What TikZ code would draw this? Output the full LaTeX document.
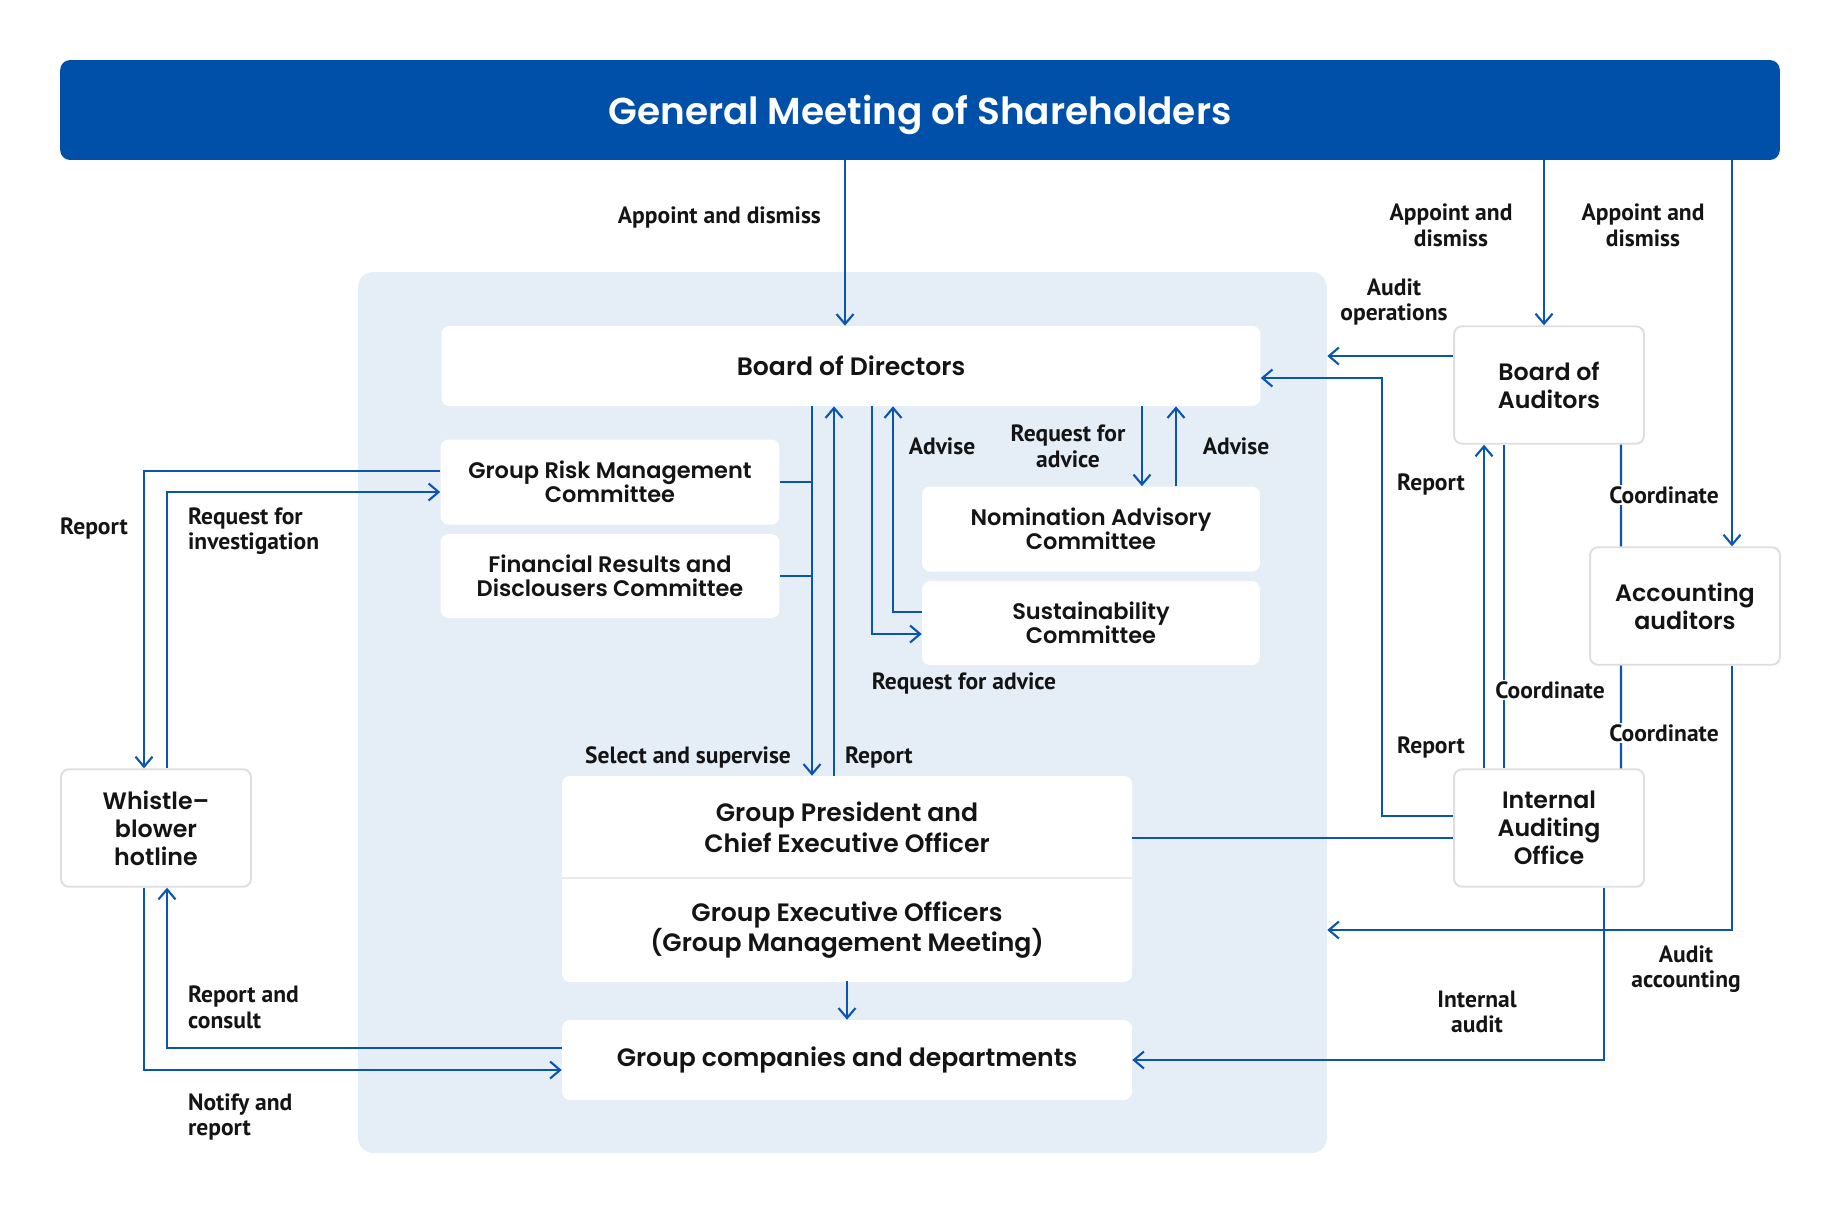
\documentclass[tikz,border=0pt]{standalone}
\usepackage{fontspec}
\setmainfont{PT Sans}
\newfontfamily\boxfont{Poppins}[UprightFont={* SemiBold}]
\newfontfamily\lblfont{PT Sans}
\usetikzlibrary{arrows.meta, positioning, calc}
\definecolor{gmsblue}{RGB}{0,80,170}
\definecolor{lineblue}{RGB}{10,85,175}
\definecolor{panelbg}{RGB}{229,237,247}
\definecolor{boxgray}{RGB}{222,222,222}
\definecolor{txt}{RGB}{20,20,20}

\begin{document}
\begin{tikzpicture}[
    x=0.02cm, y=-0.02cm,
    inbox/.style={rectangle, rounded corners=0.16cm, fill=white, align=center,
        inner sep=0pt, text=txt, font=\boxfont\fontsize{12.8}{13.8}\selectfont},
    bigbox/.style={inbox, font=\boxfont\fontsize{14.3}{17.5}\selectfont},
    outbox/.style={rectangle, rounded corners=0.16cm, fill=white, draw=boxgray,
        line width=1.1pt, align=center, inner sep=0pt, text=txt,
        minimum width=3.8cm, minimum height=2.35cm,
        font=\boxfont\fontsize{13.5}{16}\selectfont},
    lbl/.style={font=\lblfont\bfseries\fontsize{13.4}{14.6}\selectfont, align=center,
        text=txt, inner sep=1pt},
    arr/.style={draw=lineblue, line width=1.2pt, -{Straight Barb[length=0.2cm, width=0.34cm]}},
    con/.style={draw=lineblue, line width=1.2pt},
]
\useasboundingbox (0,0) rectangle (1841,1215);

% shareholders and the board area
\node[rectangle, rounded corners=0.2cm, fill=gmsblue, minimum width=34.4cm, minimum height=2cm,
    text=white, font=\boxfont\fontsize{21.3}{24}\selectfont] (gms) at (920,110) {\raisebox{-0.1cm}[\height][\depth]{General Meeting of Shareholders}};
\node[rectangle, rounded corners=0.3cm, fill=panelbg, minimum width=19.38cm, minimum height=17.62cm] (panel) at (842.5,712.5) {};

\node[bigbox, minimum width=16.38cm, minimum height=1.6cm] (bod) at (851,366) {Board of Directors};
\node[inbox, minimum width=6.78cm, minimum height=1.7cm] (grm) at (610,482) {Group Risk Management\\Committee};
\node[inbox, minimum width=6.78cm, minimum height=1.68cm] (fr) at (610,576) {Financial Results and\\Disclousers Committee};
\node[inbox, minimum width=6.76cm, minimum height=1.7cm] (nac) at (1091,529) {Nomination Advisory\\Committee};
\node[inbox, minimum width=6.76cm, minimum height=1.68cm] (sc) at (1091,623) {Sustainability\\Committee};

% president and executive officers share one card
\fill[white, rounded corners=0.16cm] (562,776) rectangle (1132,982);
\node[bigbox, fill=none, minimum width=11.4cm, minimum height=2.04cm] (gp) at (847,827) {Group President and\\Chief Executive Officer};
\node[bigbox, fill=none, minimum width=11.4cm, minimum height=2.04cm] (geo) at (847,930) {Group Executive Officers\\(Group Management Meeting)};
\draw[boxgray!60, line width=1pt] (gp.south west) -- (gp.south east);
\node[bigbox, minimum width=11.4cm, minimum height=1.6cm] (gc) at (847,1060) {Group companies and departments};

\node[outbox] (wb) at (156,828) {Whistle–\\blower\\hotline};
\node[outbox] (boa) at (1549,385) {Board of\\Auditors};
\node[outbox] (aa) at (1685,606) {Accounting\\auditors};
\node[outbox] (iao) at (1549,828) {Internal\\Auditing\\Office};

% appointments
\draw[arr] ([xshift=-0.12cm]bod.north |- gms.south) -- ([xshift=-0.12cm]bod.north);
\draw[arr] ([xshift=-0.1cm]boa.north |- gms.south) -- ([xshift=-0.1cm]boa.north);
\draw[arr] ([xshift=0.94cm]aa.north |- gms.south) -- ([xshift=0.94cm]aa.north);
\node[lbl, anchor=east] (l1) at (823,217) {Appoint and dismiss};
\node[lbl] (l2) at (1451,225) {Appoint and\\dismiss};
\node[lbl] (l3) at (1643,225) {Appoint and\\dismiss};

% auditors side
\draw[arr] ([yshift=0.58cm]boa.west) -- ([yshift=0.58cm]boa.west -| panel.east);
\node[lbl] (l4) at (1394,302) {Audit\\operations};
\draw[arr] ([yshift=0.24cm]iao.west) -| ([yshift=-0.24cm, xshift=2.42cm]bod.east) -- ([yshift=-0.24cm]bod.east);
\draw[arr] ([xshift=-1.3cm]iao.north) -- ([xshift=-1.3cm]boa.south);
\draw[con] ([xshift=-0.9cm]boa.south) -- ([xshift=-0.9cm]iao.north);
\node[lbl] (l5) at (1431,484) {Report};
\node[lbl] (l6) at (1431,747) {Report};
\node[lbl, fill=white] (l7) at (1550,690) {Coordinate};
\draw[con] ([xshift=1.44cm]boa.south) -- ([xshift=-1.28cm]aa.north);
\draw[con] ([xshift=-1.28cm]aa.south) -- ([xshift=1.44cm]iao.north);
\node[lbl, fill=white] (l8) at (1664,495) {Coordinate};
\node[lbl, fill=white] (l9) at (1664,733) {Coordinate};
\draw[arr] ([xshift=0.94cm]aa.south) |- (geo.east -| panel.east);
\node[lbl] (l10) at (1686,969) {Audit\\accounting};
\draw[arr] ([xshift=1.1cm]iao.south) |- (gc.east);
\node[lbl] (l11) at (1477,1012) {Internal\\audit};
\draw[con] ([yshift=-0.22cm]gp.east) -- ([yshift=-0.22cm]gp.east -| iao.west);

% board and its committees
\coordinate (sel) at ([xshift=-0.78cm]bod.south);
\draw[arr] (sel) -- (sel |- gp.north);
\draw[arr] ([xshift=-0.26cm]gp.north) -- ([xshift=-0.26cm]gp.north |- bod.south);
\draw[con] (grm.east) -- (grm.east -| sel);
\draw[con] (fr.east) -- (fr.east -| sel);
\node[lbl, anchor=east] (l12) at (793,757) {Select and supervise};
\node[lbl, anchor=west] (l13) at (843,757) {Report};
\draw[arr] ([xshift=0.42cm]bod.south) |- ([yshift=-0.22cm]sc.west);
\draw[arr] ([yshift=0.22cm]sc.west) -| ([xshift=0.84cm]bod.south);
\node[lbl] (l14) at (942,446) {Advise};
\node[lbl] (l15) at (964,683) {Request for advice};
\draw[arr] ([xshift=1.02cm]nac.north |- bod.south) -- ([xshift=1.02cm]nac.north);
\draw[arr] ([xshift=1.7cm]nac.north) -- ([xshift=1.7cm]nac.north |- bod.south);
\node[lbl] (l16) at (1068,446) {Request for\\advice};
\node[lbl] (l17) at (1236,446) {Advise};
\draw[arr] (geo.south) -- (gc.north);

% whistleblower hotline
\draw[arr] ([yshift=0.22cm]grm.west) -| ([xshift=-0.24cm]wb.north);
\draw[arr] ([xshift=0.22cm]wb.north) |- ([yshift=-0.2cm]grm.west);
\draw[arr] ([yshift=0.24cm]gc.west) -| ([xshift=0.22cm]wb.south);
\draw[arr] ([xshift=-0.24cm]wb.south) |- ([yshift=-0.2cm]gc.west);
\node[lbl] (l18) at (94,528) {Report};
\node[lbl, align=left, anchor=west] (l19) at (186,531) {Request for\\investigation};
\node[lbl, align=left, anchor=west] (l20) at (186,1007) {Report and\\consult};
\node[lbl, align=left, anchor=west] (l21) at (186,1117) {Notify and\\report};
\end{tikzpicture}
\end{document}
